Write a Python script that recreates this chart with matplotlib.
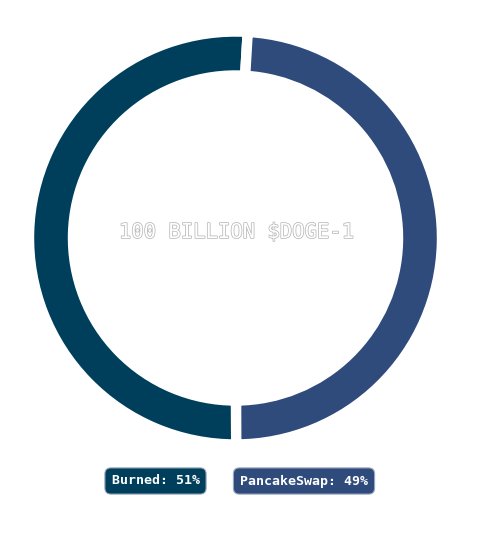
import matplotlib
matplotlib.use("Agg")
import matplotlib.pyplot as plt
import matplotlib.patheffects as pe

# data
labels = ["Burned", "PancakeSwap"]
shares = [51, 49]
colors = ["#003f5c", "#2f4b7c"]
center_title = "100 BILLION $DOGE-1"

W, H = 484, 534
fig = plt.figure(figsize=(W / 100, H / 100), dpi=100)
ax = fig.add_axes([0, 0, 1, 1])

# ring (white edges make the gaps between slices)
cx, cy = 235.5, H - 238
ax.pie(shares, colors=colors, startangle=86.6, counterclock=True,
       center=(cx, cy), radius=206.5, frame=True,
       wedgeprops=dict(width=44, edgecolor="white", linewidth=7.5))
ax.set_xlim(0, W)
ax.set_ylim(0, H)
ax.set_aspect("equal")
ax.axis("off")

# outlined title in the hole
ax.text(cx + 1, H - 232, center_title, ha="center", va="center",
        family="DejaVu Sans Mono", fontsize=14.8, color="white",
        path_effects=[pe.withStroke(linewidth=1.1, foreground="#b8b8b8")])

# legend badges
badge_x = [155.5, 304]
for lab, val, col, bx in zip(labels, shares, colors, badge_x):
    ax.text(bx, H - 481, f"{lab}: {val}%", ha="center", va="center",
            family="DejaVu Sans Mono", fontsize=9.5, fontweight="bold",
            color="white",
            bbox=dict(boxstyle="round,pad=0.5,rounding_size=0.45",
                      facecolor=col, edgecolor="#9aa8bd", linewidth=0.8))

fig.savefig("out.png", dpi=100, facecolor="white")
